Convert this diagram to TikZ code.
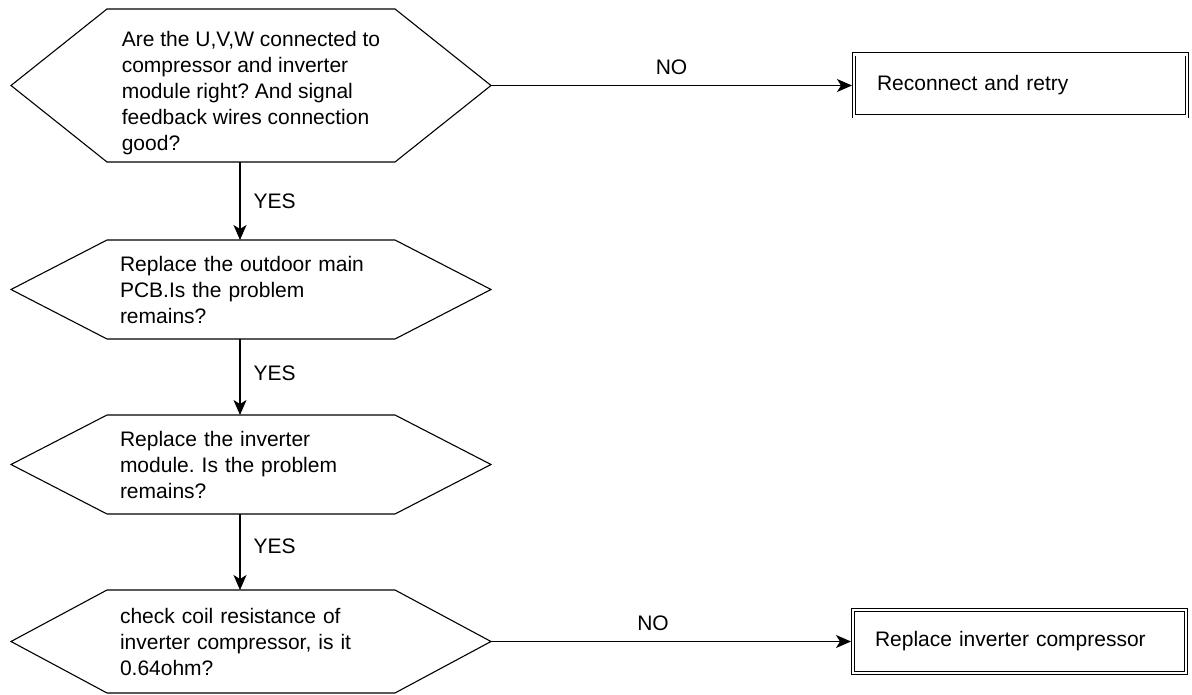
\documentclass[tikz,border=0pt]{standalone}
\usepackage{fontspec}
\setmainfont{Liberation Sans}
\usetikzlibrary{arrows.meta,positioning,calc}
\frenchspacing

\begin{document}
\begin{tikzpicture}[
  x=1pt,y=-1pt,
  every node/.style={font=\fontsize{21}{26}\selectfont},
  hexbox/.style={inner sep=0pt,outer sep=0pt,minimum width=288pt,align=left},
  endbox/.style={draw,double,double distance=2.2pt,line width=0.9pt,
                 inner sep=0pt,outer sep=2pt,align=left},
  arr/.style={-{Stealth[length=15pt,width=13pt,inset=4pt]},line width=1.2pt},
  lbl/.style={inner sep=0pt},
]
  \useasboundingbox (0,0) rectangle (1192,695);

  % Decisions (left column)
  \node[hexbox,minimum height=153pt,text height=134pt]
    (q1) at (251,85.5) {Are the U,V,W connected to\\compressor and inverter\\module right? And signal\\feedback wires connection\\good?};
  \node[hexbox,text width=262pt,minimum height=99pt]
    (q2) at (251,289.5) {Replace the outdoor main\\PCB.Is the problem\\remains?};
  \node[hexbox,text width=262pt,minimum height=99pt]
    (q3) at (251,464.5) {Replace the inverter\\module. Is the problem\\remains?};
  \node[hexbox,text width=262pt,minimum height=103pt]
    (q4) at (251,641.5) {check coil resistance of\\inverter compressor, is it\\0.64ohm?};

  % Hexagon outlines
  \foreach \q in {q1,q2,q3,q4} {
    \coordinate (\q-tip) at ($(\q.east)+(96,0)$);
    \coordinate (\q-back) at ($(\q.west)+(-96,0)$);
    \draw[line width=1.1pt] (\q.north west) -- (\q.north east) -- (\q-tip)
      -- (\q.south east) -- (\q.south west) -- (\q-back) -- cycle;
  }

  % Actions (right column)
  \node[endbox,text width=287pt,minimum width=333pt,minimum height=62pt]
    (fix1) at (1020.5,85.5) {Reconnect and retry};
  \node[endbox,text width=289pt,minimum width=333pt,minimum height=63pt]
    (fix2) at (1019.5,641.5) {Replace inverter compressor};

  % Arrows
  \coordinate (spine) at (240,0);
  \draw[arr] (q1.south -| spine) -- node[lbl,pos=0.5,right=13pt]{YES} (q2.north -| spine);
  \draw[arr] (q2.south -| spine) -- node[lbl,pos=0.45,right=13pt]{YES} (q3.north -| spine);
  \draw[arr] (q3.south -| spine) -- node[lbl,pos=0.42,right=13pt]{YES} (q4.north -| spine);
  \draw[arr] (q1-tip) -- node[lbl,above=10pt]{NO} (fix1.west);
  \draw[arr] (q4-tip) -- node[lbl,pos=0.45,above=10pt]{NO} (fix2.west);
\end{tikzpicture}
\end{document}
